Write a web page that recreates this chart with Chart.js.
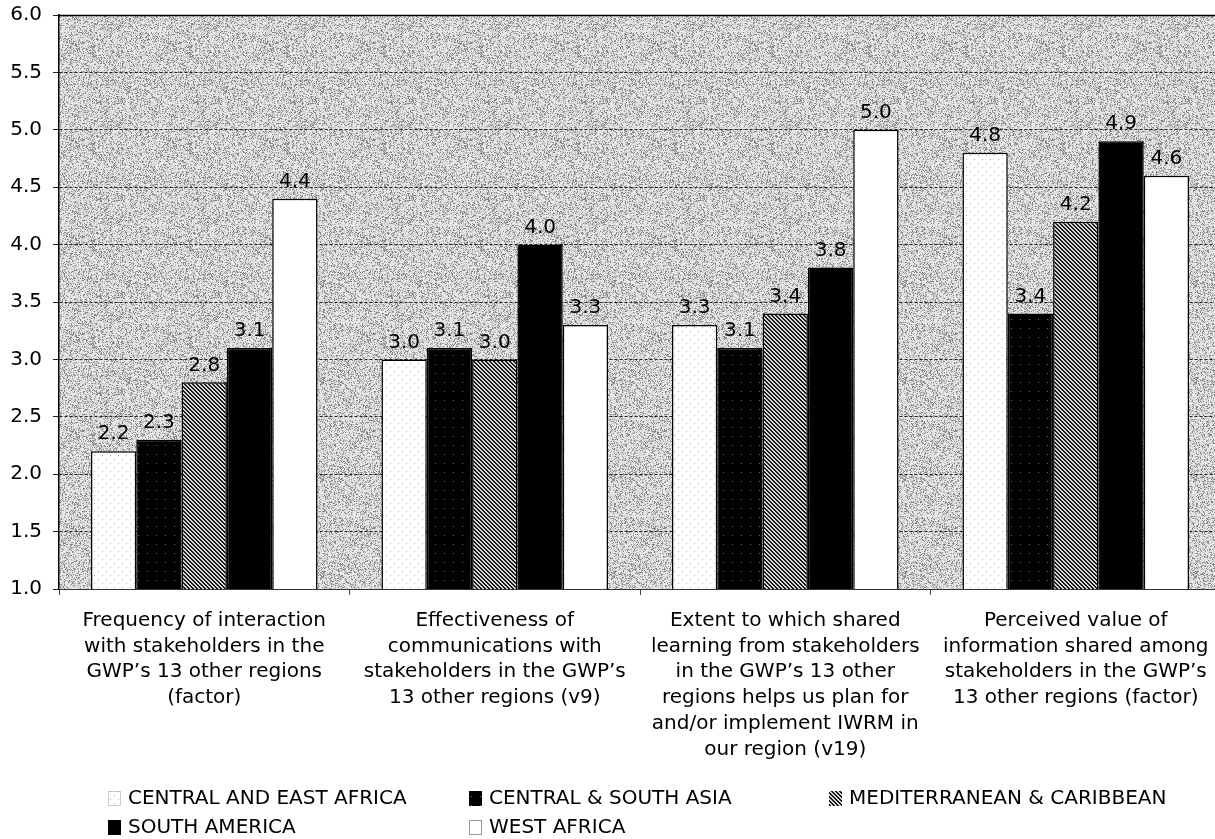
<!DOCTYPE html>
<html>
<head>
<meta charset="utf-8">
<script src="https://cdn.jsdelivr.net/npm/chart.js@4.4.0/dist/chart.umd.min.js"></script>
<style>
  html, body { margin: 0; padding: 0; background: #fff; overflow: hidden; }
</style>
</head>
<body>
<canvas id="myChart" width="1222" height="839"></canvas>
<script>
const categories = [
  ['Frequency of interaction', 'with stakeholders in the', 'GWP\u2019s 13 other regions', '(factor)'],
  ['Effectiveness of', 'communications with', 'stakeholders in the GWP\u2019s', '13 other regions (v9)'],
  ['Extent to which shared', 'learning from stakeholders', 'in the GWP\u2019s 13 other', 'regions helps us plan for', 'and/or implement IWRM in', 'our region (v19)'],
  ['Perceived value of', 'information shared among', 'stakeholders in the GWP\u2019s', '13 other regions (factor)']
];
const regions = ['CENTRAL AND EAST AFRICA', 'CENTRAL & SOUTH ASIA', 'MEDITERRANEAN & CARIBBEAN', 'SOUTH AMERICA', 'WEST AFRICA'];

const centralEastAfrica = [2.2, 3.0, 3.3, 4.8];
const centralSouthAsia = [2.3, 3.1, 3.1, 3.4];
const mediterranean = [2.8, 3.0, 3.4, 4.2];
const southAmerica = [3.1, 4.0, 3.8, 4.9];
const westAfrica = [4.4, 3.3, 5.0, 4.6];

const yMin = 1.0;
const yMax = 6.0;
const yStep = 0.5;

const ctx = document.getElementById('myChart').getContext('2d');
const FONT = '"DejaVu Sans", Verdana, sans-serif';

// small grey-level tiles used as fills
function noise(x, y) {
  let n = Math.imul(x, 374761393) + Math.imul(y, 668265263);
  n = Math.imul(n ^ (n >>> 13), 1274126177);
  return ((n ^ (n >>> 16)) >>> 0) / 4294967296;
}
function tile(size, paint) {
  const c = document.createElement('canvas');
  c.width = size; c.height = size;
  const g = c.getContext('2d');
  const img = g.createImageData(size, size);
  for (let y = 0; y < size; y++) {
    for (let x = 0; x < size; x++) {
      const v = paint(x, y);
      const i = (y * size + x) * 4;
      img.data[i] = img.data[i + 1] = img.data[i + 2] = v;
      img.data[i + 3] = 255;
    }
  }
  g.putImageData(img, 0, 0);
  return ctx.createPattern(c, 'repeat');
}

const plotFill = tile(97, (x, y) => {
  const n = noise(x, y);
  return n < 0.22 ? 135 : (n < 0.5 ? 200 : 232);
});
const eastFill = tile(8, (x, y) => (x === 2 && y === 3) || (x === 6 && y === 7) ? 175 : 255);
const asiaFill = tile(9, (x, y) => (x === 3 && y === 4) ? 110 : 0);
const medFill = tile(4, (x, y) => ((x - y + 8) % 4) < 2 ? 25 : 215);

const seriesValues = [centralEastAfrica, centralSouthAsia, mediterranean, southAmerica, westAfrica];
const fills = [eastFill, asiaFill, medFill, '#000', '#fff'];

const plotBackground = {
  id: 'plotBackground',
  beforeDraw(chart) {
    const a = chart.chartArea;
    const c = chart.ctx;
    c.save();
    c.fillStyle = plotFill;
    c.fillRect(a.left, a.top, a.right - a.left, a.bottom - a.top);
    c.restore();
  },
  afterDatasetsDraw(chart) {
    const a = chart.chartArea;
    const c = chart.ctx;
    c.save();
    c.strokeStyle = '#000';
    c.lineWidth = 1.5;
    c.beginPath();
    c.moveTo(a.left, a.top + 0.5);
    c.lineTo(a.right, a.top + 0.5);
    c.stroke();
    c.restore();
  }
};

const valueLabels = {
  id: 'valueLabels',
  afterDatasetsDraw(chart) {
    const c = chart.ctx;
    c.save();
    c.font = '20px ' + FONT;
    c.fillStyle = '#000';
    c.textAlign = 'center';
    c.textBaseline = 'middle';
    chart.data.datasets.forEach((ds, i) => {
      chart.getDatasetMeta(i).data.forEach((bar, j) => {
        c.fillText(ds.data[j].toFixed(1), bar.x, bar.y - 17);
      });
    });
    c.restore();
  }
};

const gridLegend = {
  id: 'gridLegend',
  afterDraw(chart) {
    const c = chart.ctx;
    const cols = [108, 469, 829];
    const rows = [798, 827];
    c.save();
    c.font = '20px ' + FONT;
    c.textBaseline = 'middle';
    c.textAlign = 'left';
    chart.data.datasets.forEach((ds, i) => {
      const x = cols[i % 3];
      const y = rows[Math.floor(i / 3)];
      c.fillStyle = ds.backgroundColor;
      c.fillRect(x, y - 7, 13, 15);
      if (ds.backgroundColor === '#fff' || ds.backgroundColor === eastFill) {
        c.strokeStyle = '#999';
        c.lineWidth = 1;
        c.setLineDash(i === 0 ? [1, 1] : []);
        c.strokeRect(x + 0.5, y - 6.5, 12, 14);
        c.setLineDash([]);
      }
      c.fillStyle = '#000';
      c.fillText(ds.label, x + 20, y + 1);
    });
    c.restore();
  }
};

const myChart = new Chart(ctx, {
  type: 'bar',
  data: {
    labels: categories,
    datasets: regions.map((name, i) => ({
      label: name,
      data: seriesValues[i],
      backgroundColor: fills[i],
      borderColor: '#000',
      borderWidth: 1.5
    }))
  },
  options: {
    responsive: false,
    animation: false,
    events: [],
    layout: { padding: { top: 15, right: 1, bottom: 0, left: 0 } },
    datasets: { bar: { categoryPercentage: 0.78, barPercentage: 1.0 } },
    plugins: { legend: { display: false }, tooltip: { enabled: false } },
    scales: {
      x: {
        offset: true,
        afterFit(scale) { scale.height = 250; },
        grid: { drawOnChartArea: false, tickLength: 6, color: '#444' },
        border: { color: '#333', width: 1 },
        ticks: {
          maxRotation: 0,
          autoSkip: false,
          padding: 13,
          color: '#000',
          font: { family: FONT, size: 20, lineHeight: 1.285 }
        }
      },
      y: {
        min: yMin,
        max: yMax,
        afterFit(scale) {
          scale.width = 59;
          scale.paddingTop = 0;
          scale.paddingBottom = 0;
        },
        grid: { color: '#222', lineWidth: 1, tickLength: 6 },
        border: { color: '#000', width: 1.5, dash: [3, 2] },
        ticks: {
          stepSize: yStep,
          padding: 11,
          color: '#000',
          font: { family: FONT, size: 20 },
          callback: v => v.toFixed(1)
        }
      }
    }
  },
  plugins: [plotBackground, valueLabels, gridLegend]
});
</script>
</body>
</html>
